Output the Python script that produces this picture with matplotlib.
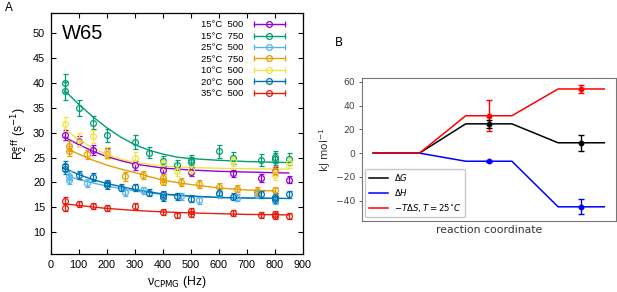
import matplotlib
matplotlib.use("Agg")
import matplotlib.pyplot as plt
from matplotlib.lines import Line2D
from matplotlib.legend_handler import HandlerLine2D, HandlerTuple

# ---------------- Panel A data ----------------
series_labels = ["15°C  500", "15°C  750", "25°C  500", "25°C  750",
                 "10°C  500", "20°C  500", "35°C  500"]
series_colors = ["#9400d3", "#009e73", "#56b4e9", "#e69f00",
                 "#f0e442", "#0072b2", "#e51e10"]

# measured points
x_15_500 = [50, 100, 150, 200, 300, 400, 500, 650, 750, 800, 850]
y_15_500 = [29.5, 28.3, 26.6, 26.0, 23.5, 22.6, 22.1, 21.9, 20.9, 22.3, 20.6]
e_15_500 = [1.0, 1.0, 1.0, 1.0, 0.9, 0.8, 0.8, 0.7, 0.8, 0.8, 0.8]

x_15_750 = [50, 50, 100, 150, 200, 300, 350, 400, 450, 500, 500, 600, 650, 750, 800, 800, 850]
y_15_750 = [40.0, 38.4, 35.0, 32.0, 29.5, 28.1, 26.0, 24.3, 23.6, 24.2, 24.5, 26.3, 25.0, 24.6, 25.2, 24.8, 24.8]
e_15_750 = [1.8, 1.8, 1.6, 1.3, 1.3, 1.4, 1.1, 1.0, 1.0, 1.0, 1.0, 1.3, 1.2, 1.2, 1.2, 1.2, 1.2]

x_25_500 = [65, 65, 130, 265, 330, 400, 465, 530, 600, 665, 735, 800]
y_25_500 = [21.4, 20.6, 19.9, 18.1, 18.4, 17.3, 17.2, 16.4, 17.6, 16.9, 17.6, 16.3]
e_25_500 = [0.9, 0.9, 0.8, 0.8, 0.7, 0.7, 0.7, 0.7, 0.7, 0.7, 0.7, 0.7]

x_25_750 = [65, 65, 130, 200, 265, 330, 400, 400, 465, 530, 600, 665, 735, 800, 800]
y_25_750 = [27.3, 26.3, 25.7, 25.8, 21.3, 21.5, 20.9, 20.2, 20.1, 19.7, 19.1, 18.7, 18.3, 18.4, 22.4]
e_25_750 = [1.0, 1.0, 0.9, 0.9, 0.9, 0.8, 0.8, 0.8, 0.8, 0.8, 0.8, 0.7, 0.8, 0.7, 0.9]

x_10_500 = [50, 100, 150, 200, 300, 400, 450, 500, 650, 800, 850]
y_10_500 = [31.7, 28.6, 29.3, 25.9, 24.9, 23.9, 22.4, 22.6, 24.4, 21.6, 24.0]
e_10_500 = [1.5, 1.3, 1.3, 1.2, 1.2, 1.1, 1.0, 1.0, 1.0, 1.0, 1.1]

x_20_500 = [50, 50, 100, 150, 200, 200, 250, 300, 350, 400, 400, 450, 500, 600, 650, 750, 800, 800, 850]
y_20_500 = [23.4, 22.8, 21.6, 21.2, 19.9, 19.4, 18.9, 19.0, 17.9, 17.6, 17.0, 17.2, 16.7, 17.9, 17.1, 17.6, 17.1, 16.6, 17.6]
e_20_500 = [1.0, 1.0, 0.8, 0.8, 0.7, 0.7, 0.7, 0.7, 0.7, 0.7, 0.7, 0.7, 0.7, 0.7, 0.7, 0.7, 0.7, 0.7, 0.7]

x_35_500 = [50, 50, 100, 150, 200, 300, 400, 450, 500, 500, 650, 750, 800, 800, 850]
y_35_500 = [16.3, 14.9, 15.6, 15.2, 14.9, 15.3, 14.0, 13.4, 14.3, 13.7, 13.9, 13.4, 13.7, 13.2, 13.2]
e_35_500 = [0.7, 0.7, 0.6, 0.6, 0.6, 0.6, 0.6, 0.5, 0.6, 0.6, 0.6, 0.6, 0.6, 0.6, 0.6]

# fitted curves
fx_15_500 = [50, 100, 150, 200, 250, 300, 400, 500, 600, 700, 850]
fy_15_500 = [29.1, 27.6, 26.3, 25.2, 24.4, 23.7, 22.9, 22.5, 22.25, 22.1, 21.9]
fx_15_750 = [50, 100, 150, 200, 250, 300, 350, 400, 450, 500, 600, 700, 850]
fy_15_750 = [38.4, 35.7, 33.2, 31.0, 29.1, 27.6, 26.5, 25.7, 25.1, 24.8, 24.45, 24.2, 24.0]
fx_25_500 = [65, 100, 150, 200, 300, 400, 500, 600, 700, 800]
fy_25_500 = [21.2, 20.6, 19.9, 19.3, 18.3, 17.6, 17.2, 17.0, 16.85, 16.8]
fx_25_750 = [65, 100, 150, 200, 250, 300, 350, 400, 450, 500, 600, 700, 800]
fy_25_750 = [26.6, 25.7, 24.5, 23.5, 22.7, 22.0, 21.2, 20.5, 20.0, 19.6, 18.9, 18.5, 18.3]
fx_10_500 = [50, 100, 150, 200, 250, 300, 400, 500, 600, 700, 850]
fy_10_500 = [30.8, 28.6, 26.9, 25.6, 24.7, 24.0, 23.3, 23.0, 22.85, 22.75, 22.7]
fx_20_500 = [50, 100, 150, 200, 250, 300, 400, 500, 600, 700, 850]
fy_20_500 = [22.8, 21.6, 20.6, 19.8, 19.2, 18.6, 17.7, 17.3, 17.0, 16.9, 16.8]
fx_35_500 = [50, 100, 150, 200, 300, 400, 500, 600, 700, 850]
fy_35_500 = [15.7, 15.4, 15.1, 14.8, 14.4, 14.1, 13.9, 13.75, 13.6, 13.5]

points_x = [x_15_500, x_15_750, x_25_500, x_25_750, x_10_500, x_20_500, x_35_500]
points_y = [y_15_500, y_15_750, y_25_500, y_25_750, y_10_500, y_20_500, y_35_500]
points_e = [e_15_500, e_15_750, e_25_500, e_25_750, e_10_500, e_20_500, e_35_500]
fits_x = [fx_15_500, fx_15_750, fx_25_500, fx_25_750, fx_10_500, fx_20_500, fx_35_500]
fits_y = [fy_15_500, fy_15_750, fy_25_500, fy_25_750, fy_10_500, fy_20_500, fy_35_500]

# ---------------- Panel B data ----------------
rc_x = [0, 1, 2, 3, 4, 5]
dG = [0, 0, 24.6, 24.6, 8.7, 8.7]
dH = [0, 0, -6.8, -6.8, -45.1, -45.1]
mTdS = [0, 0, 31.4, 31.4, 53.9, 53.9]
err_x = [2.5, 4.5]
dG_pt = [24.6, 8.7]
dG_err = [3.5, 6.6]
dH_pt = [-6.8, -45.1]
dH_err = [0.6, 6.2]
mTdS_pt = [31.4, 53.9]
mTdS_err = [13.0, 3.0]

fig = plt.figure(figsize=(6.17, 2.92), dpi=100)

# ---------------- Panel A ----------------
fontA = "Liberation Sans"
axA = fig.add_axes([0.0822, 0.130, 0.4084, 0.8255])
handles = []
for xs, ys, es, fx, fy, c, lab in zip(points_x, points_y, points_e, fits_x, fits_y,
                                      series_colors, series_labels):
    axA.plot(fx, fy, color=c, lw=1.0, zorder=2)
    axA.errorbar(xs, ys, yerr=es, fmt="o", mfc="none", mec=c, ecolor=c,
                 ms=4.2, mew=0.9, elinewidth=0.9, capsize=1.8, capthick=0.9, zorder=3)
    cap_line = Line2D([], [], color=c, lw=1.0, marker="|", ms=4.0, mew=0.9)
    circ_line = Line2D([], [], color=c, lw=0, marker="o", mfc="none", mec=c, ms=4.2, mew=0.9)
    handles.append((cap_line, circ_line))

hmap = {}
for cl, ci in handles:
    hmap[cl] = HandlerLine2D(numpoints=2)
    hmap[ci] = HandlerLine2D(numpoints=1)
hmap[tuple] = HandlerTuple(ndivide=1)
leg = axA.legend(handles, series_labels, handler_map=hmap, loc="upper right",
                 bbox_to_anchor=(0.955, 0.985), frameon=False, markerfirst=False,
                 prop={"family": fontA, "size": 6.8}, handlelength=3.9,
                 labelspacing=0.26, handletextpad=0.8, borderaxespad=0)

axA.set_xlim(0, 900)
axA.set_ylim(5.65, 54.0)
axA.set_xticks(range(0, 901, 100))
axA.set_yticks(range(10, 51, 5))
axA.tick_params(direction="in", top=True, right=True, length=3.5, width=0.8,
                labelsize=7.8, pad=4)
for lab in axA.get_xticklabels() + axA.get_yticklabels():
    lab.set_family(fontA)
for sp in axA.spines.values():
    sp.set_linewidth(0.9)
axA.set_ylabel(r"R$_2^{\rm eff}$ (s$^{-1}$)", fontsize=8.8, family=fontA, labelpad=3)
axA.set_xlabel(r"ν$_{\rm CPMG}$ (Hz)", fontsize=8.8, family=fontA, labelpad=3)
axA.text(0.044, 0.892, "W65", transform=axA.transAxes, fontsize=14.5,
         family=fontA, va="baseline", ha="left")
fig.text(5 / 617, 1 - 8 / 292, "A", fontsize=8.5, family=fontA, va="center", ha="left")

# ---------------- Panel B ----------------
axB = fig.add_axes([0.5862, 0.244, 0.412, 0.488])
axB.plot(rc_x, dG, color="black", lw=1.1, label=r"$\Delta G$")
axB.plot(rc_x, dH, color="blue", lw=1.1, label=r"$\Delta H$")
axB.plot(rc_x, mTdS, color="red", lw=1.1, label=r"$-T\Delta S, T = 25^{\circ}C$")
axB.errorbar(err_x, mTdS_pt, yerr=mTdS_err, fmt="o", color="red", ms=3.2,
             elinewidth=1.0, capsize=2.5, capthick=1.0)
axB.errorbar(err_x, dG_pt, yerr=dG_err, fmt="o", color="black", ms=3.2,
             elinewidth=1.0, capsize=2.5, capthick=1.0)
axB.errorbar(err_x, dH_pt, yerr=dH_err, fmt="o", color="blue", ms=3.2,
             elinewidth=1.0, capsize=2.5, capthick=1.0)
axB.set_ylim(-56.8, 62.9)
axB.set_yticks([-40, -20, 0, 20, 40, 60])
axB.set_xticks([])
axB.tick_params(axis="y", direction="out", length=2.5, width=0.6, labelsize=6.6,
                colors="#444444", pad=2)
for sp in axB.spines.values():
    sp.set_color("#777777")
    sp.set_linewidth(0.8)
axB.set_ylabel(r"kJ mol$^{-1}$", fontsize=7.6, color="#333333", labelpad=2)
axB.set_xlabel("reaction coordinate", fontsize=7.8, color="#333333", labelpad=3)
axB.legend(loc="lower left", fontsize=6.2, frameon=True, edgecolor="#bbbbbb",
           handlelength=2.2, borderaxespad=0.4, labelspacing=0.45, fancybox=True)
fig.text(335 / 617, 1 - 42 / 292, "B", fontsize=8.5, va="center", ha="left")

fig.savefig("out.png", dpi=100)
